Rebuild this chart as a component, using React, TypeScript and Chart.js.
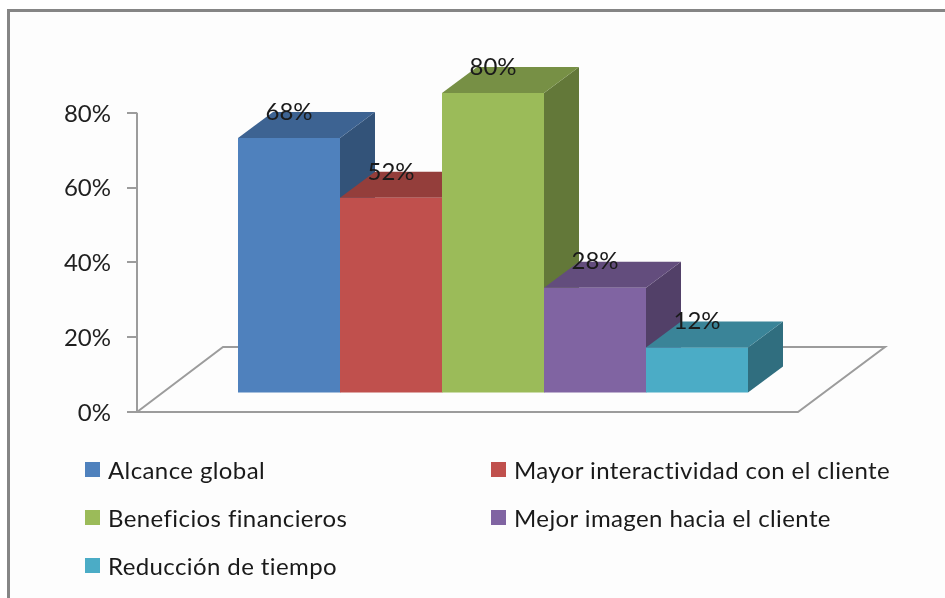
import React, { useEffect, useRef } from "react";
import { Chart, registerables } from "chart.js";

Chart.register(...registerables);

const categories = [""];
const seriesNames = [
  "Alcance global",
  "Mayor interactividad con el cliente",
  "Beneficios financieros",
  "Mejor imagen hacia el cliente",
  "Reducción de tiempo",
];
const seriesValues = [68, 52, 80, 28, 12];
const seriesColors = ["#4F81BD", "#C0504D", "#9BBB59", "#8064A2", "#4BACC6"];
const tickValues = [0, 20, 40, 60, 80];

const FONT = "Lato, Carlito, sans-serif";
const AXIS_GRAY = "#9c9c9c";
const DEPTH_X = 35;
const DEPTH_Y = 26;

function shade(hex: string, f: number) {
  const n = parseInt(hex.slice(1), 16);
  const r = Math.round(((n >> 16) & 255) * f);
  const g = Math.round(((n >> 8) & 255) * f);
  const b = Math.round((n & 255) * f);
  return `rgb(${r},${g},${b})`;
}

function poly(ctx: CanvasRenderingContext2D, pts: number[][], fill: string) {
  ctx.beginPath();
  pts.forEach((p, i) => (i ? ctx.lineTo(p[0], p[1]) : ctx.moveTo(p[0], p[1])));
  ctx.closePath();
  ctx.fillStyle = fill;
  ctx.fill();
}

const depthPlugin = {
  id: "depth3d",
  beforeDatasetsDraw(chart: any) {
    const { ctx } = chart;
    const axis = chart.scales.yTicks;
    const yZero = axis.getPixelForValue(0);
    const yTop = axis.getPixelForValue(80);
    const left = chart.chartArea.left;

    ctx.save();
    ctx.strokeStyle = AXIS_GRAY;
    ctx.lineWidth = 2;
    // value axis
    ctx.beginPath();
    ctx.moveTo(left, yTop);
    ctx.lineTo(left, yZero);
    ctx.stroke();
    // floor
    const floorH = 65;
    const floorDx = 86;
    const frontRight = 798;
    ctx.beginPath();
    ctx.moveTo(left, yZero);
    ctx.lineTo(left + floorDx, yZero - floorH);
    ctx.lineTo(frontRight + floorDx + 1, yZero - floorH);
    ctx.lineTo(frontRight, yZero);
    ctx.closePath();
    ctx.stroke();

    // side and top faces, in series order
    chart.data.datasets.forEach((ds: any, i: number) => {
      const bar = chart.getDatasetMeta(i).data[0];
      const p = bar.getProps(["x", "y", "base", "width"], true);
      const x0 = p.x - p.width / 2;
      const x1 = p.x + p.width / 2;
      poly(
        ctx,
        [
          [x1, p.y],
          [x1 + DEPTH_X, p.y - DEPTH_Y],
          [x1 + DEPTH_X, p.base - DEPTH_Y],
          [x1, p.base],
        ],
        shade(ds.backgroundColor, 0.64)
      );
      poly(
        ctx,
        [
          [x0, p.y],
          [x0 + DEPTH_X, p.y - DEPTH_Y],
          [x1 + DEPTH_X, p.y - DEPTH_Y],
          [x1, p.y],
        ],
        shade(ds.backgroundColor, 0.77)
      );
    });
    ctx.restore();
  },
  afterDatasetsDraw(chart: any) {
    const { ctx } = chart;
    ctx.save();
    ctx.font = `24px ${FONT}`;
    ctx.fillStyle = "#1a1a1a";
    ctx.textAlign = "center";
    ctx.textBaseline = "middle";
    chart.data.datasets.forEach((ds: any, i: number) => {
      const bar = chart.getDatasetMeta(i).data[0];
      const p = bar.getProps(["x", "y"], true);
      ctx.fillText(`${ds.data[0]}%`, p.x, p.y - 26);
    });
    ctx.restore();
  },
};

export default function App() {
  const ref = useRef<HTMLCanvasElement>(null);

  useEffect(() => {
    const chart = new Chart(ref.current as HTMLCanvasElement, {
      type: "bar",
      data: {
        labels: categories,
        datasets: seriesNames.map((name, i) => ({
          label: name,
          data: [seriesValues[i]],
          backgroundColor: seriesColors[i],
          yAxisID: "y",
          categoryPercentage: 510 / 712,
          barPercentage: 1,
        })),
      },
      options: {
        responsive: false,
        animation: false,
        layout: { padding: { top: 93, right: 96, bottom: 186, left: 0 } },
        plugins: { legend: { display: false }, tooltip: { enabled: false } },
        scales: {
          x: { display: false, grid: { display: false } },
          y: { display: false, min: -5.21, max: 80 },
          yTicks: {
            position: "left",
            min: 0,
            max: 85.3,
            afterFit(scale: any) {
              scale.width = 137;
            },
            afterBuildTicks(scale: any) {
              scale.ticks = tickValues.map((value) => ({ value }));
            },
            border: { display: false },
            grid: {
              drawOnChartArea: false,
              drawTicks: true,
              tickLength: 10,
              color: AXIS_GRAY,
              lineWidth: 2,
            },
            ticks: {
              padding: 16,
              labelOffset: 1,
              color: "#1f1f1f",
              font: { family: FONT, size: 24 },
              maxRotation: 0,
              callback: (v: any) => `${v}%`,
            },
          },
        },
      } as any,
      plugins: [depthPlugin],
    });
    return () => chart.destroy();
  }, []);

  return (
    <div style={{ position: "absolute", left: 0, top: 0, width: 945, height: 598, overflow: "hidden", background: "#fff" }}>
      <div
        style={{
          position: "absolute",
          left: 7,
          top: 9,
          right: 0,
          bottom: 0,
          background: "#fdfdfd",
          borderLeft: "3px solid #858585",
          borderTop: "3px solid #858585",
        }}
      />
      <canvas ref={ref} width={945} height={598} style={{ position: "absolute", left: 0, top: 0, display: "block" }} />
      <div
        style={{
          position: "absolute",
          left: 85,
          top: 445,
          display: "grid",
          gridTemplateColumns: "406px 430px",
          gridAutoRows: "48px",
          fontFamily: FONT,
          fontSize: 24,
          letterSpacing: "0.4px",
          color: "#1a1a1a",
        }}
      >
        {seriesNames.map((name, i) => (
          <div key={name} style={{ display: "flex", alignItems: "center", whiteSpace: "nowrap" }}>
            <span style={{ width: 15, height: 15, background: seriesColors[i], marginRight: 8, flex: "none" }} />
            {name}
          </div>
        ))}
      </div>
    </div>
  );
}
